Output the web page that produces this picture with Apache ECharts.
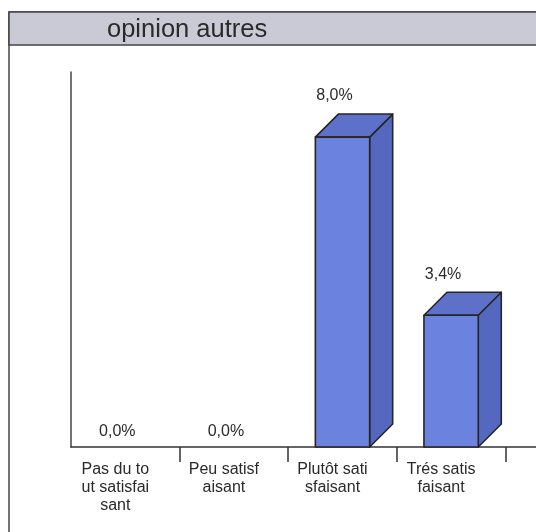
<!DOCTYPE html>
<html>
<head>
<meta charset="utf-8">
<script src="https://cdn.jsdelivr.net/npm/echarts@6/dist/echarts.min.js"></script>
<style>
html,body{margin:0;padding:0;background:#fff;}
#c{width:536px;height:532px;}
</style>
</head>
<body>
<div id="c"></div>
<script>
const titleText = 'opinion autres';
const categories = ['Pas du tout satisfaisant', 'Peu satisfaisant', 'Plutôt satisfaisant', 'Trés satisfaisant', ''];
const tickLabels = ['Pas du to\nut satisfai\nsant', 'Peu satisf\naisant', 'Plutôt sati\nsfaisant', 'Trés satis\nfaisant', ''];
const values = [0.0, 0.0, 8.0, 3.4, null];

const FONT = '"Liberation Sans", Arial, sans-serif';
const chart = echarts.init(document.getElementById('c'), null, {renderer: 'canvas'});

const seriesData = [];
values.forEach((v, i) => { if (v !== null) seriesData.push([i, v]); });

function fmt(v) { return v.toFixed(1).replace('.', ',') + '%'; }

function renderItem(params, api) {
  const i = api.value(0), v = api.value(1);
  const base = api.coord([i, 0]);
  const top = api.coord([i, v]);
  const bw = api.size([1, 0])[0];
  const w = bw * 0.5;
  const d = bw * 0.212;
  const x0 = base[0] - w / 2, x1 = base[0] + w / 2, yb = base[1], yt = top[1];
  const stroke = {stroke: '#262626', lineWidth: 1.6, lineJoin: 'round'};
  const children = [];
  if (v > 0) {
    children.push({type: 'polygon', shape: {points: [[x1, yb], [x1 + d, yb - d], [x1 + d, yt - d], [x1, yt]]},
      style: Object.assign({fill: '#5568bf'}, stroke)});
    children.push({type: 'polygon', shape: {points: [[x0, yt], [x0 + d, yt - d], [x1 + d, yt - d], [x1, yt]]},
      style: Object.assign({fill: '#5d71cb'}, stroke)});
    children.push({type: 'rect', shape: {x: x0, y: yt, width: w, height: yb - yt},
      style: Object.assign({fill: '#6b82de'}, stroke)});
  }
  children.push({type: 'text', x: base[0] - 8, y: v > 0 ? yt - 41 : yb - 15,
    style: {text: fmt(v), fill: '#2a2a2a', font: '16px ' + FONT, align: 'center', verticalAlign: 'middle'}});
  return {type: 'group', children: children};
}

chart.setOption({
  backgroundColor: '#fff',
  animation: false,
  graphic: [
    {type: 'rect', z: 0, shape: {x: 9, y: 12, width: 600, height: 600}, style: {fill: '#fff', stroke: '#444', lineWidth: 1.5}},
    {type: 'rect', z: 1, shape: {x: 9, y: 12, width: 600, height: 33}, style: {fill: '#c9cad5', stroke: '#444', lineWidth: 1.5}}
  ],
  title: {
    text: titleText, left: 107, top: 17, padding: 0, z: 10,
    textStyle: {fontFamily: FONT, fontSize: 25.5, fontWeight: 'normal', color: '#2a2a2a', lineHeight: 25}
  },
  grid: {left: 71, right: -78, top: 72, bottom: 85, containLabel: false, outerBoundsMode: 'none'},
  xAxis: {
    type: 'category', data: categories,
    axisLine: {show: true, lineStyle: {color: '#333', width: 1.5}},
    axisTick: {show: true, length: 15, interval: function (i) { return i > 0; }, lineStyle: {color: '#333', width: 1.5}},
    axisLabel: {
      interval: 0, margin: 14, fontFamily: FONT, fontSize: 16, lineHeight: 18, color: '#2a2a2a',
      padding: [0, 20, 0, 0],
      formatter: function (val, idx) { return tickLabels[idx]; }
    },
    splitLine: {show: false}
  },
  yAxis: {
    type: 'value', min: 0, max: 9.68,
    axisLine: {show: true, lineStyle: {color: '#444', width: 1.5}},
    axisTick: {show: false}, axisLabel: {show: false}, splitLine: {show: false}
  },
  series: [{
    type: 'custom', renderItem: renderItem, data: seriesData, clip: false, z: 5
  }]
});
</script>
</body>
</html>
